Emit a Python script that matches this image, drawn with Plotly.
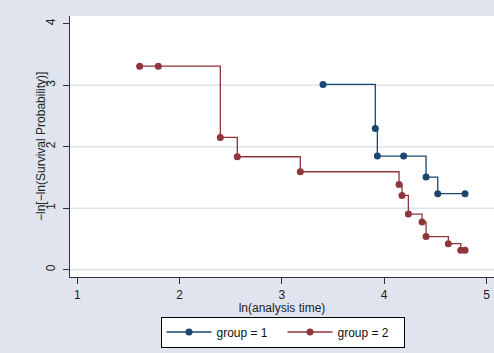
import plotly.graph_objects as go

# group 1 (ln time, -ln(-ln S))
g1_lnt = [3.402, 3.913, 3.933, 4.190, 4.409, 4.523, 4.790]
g1_val = [3.013, 2.297, 1.847, 1.847, 1.506, 1.236, 1.236]
# group 2
g2_lnt = [1.610, 1.792, 2.398, 2.564, 3.180, 4.145, 4.174, 4.236, 4.370, 4.409, 4.627, 4.748, 4.790]
g2_val = [3.311, 3.311, 2.151, 1.837, 1.593, 1.387, 1.208, 0.904, 0.774, 0.537, 0.423, 0.314, 0.314]

x_ticks = [1, 2, 3, 4, 5]
y_ticks = [0, 1, 2, 3, 4]
grid_vals = [0, 1, 2, 3]
y_title = "−ln[−ln(Survival Probability)]"
x_title = "ln(analysis time)"

navy = "#1A476F"
maroon = "#90353B"
bg_blue = "#DFE4EE"
grid_col = "#DCE2EE"
font_fam = "Liberation Sans, Arial, sans-serif"

W, H = 494, 353
ML, MR, MT, MB = 70, 0, 16, 76
PW, PH = W - ML - MR, H - MT - MB

def px_to_paper_x(px):
    return (px - ML) / PW

def px_to_paper_y(py):
    return (H - MB - py) / PH

fig = go.Figure()
fig.add_trace(go.Scatter(x=g1_lnt, y=g1_val, mode="lines+markers", name="group = 1",
                         line=dict(color=navy, width=1.3, shape="hv"),
                         marker=dict(color=navy, size=7)))
fig.add_trace(go.Scatter(x=g2_lnt, y=g2_val, mode="lines+markers", name="group = 2",
                         line=dict(color=maroon, width=1.3, shape="hv"),
                         marker=dict(color=maroon, size=7)))

shapes = []
for g in grid_vals:
    shapes.append(dict(type="line", xref="paper", yref="y", x0=0, x1=1, y0=g, y1=g,
                       line=dict(color=grid_col, width=1.5), layer="below"))

fig.update_layout(
    width=W, height=H,
    margin=dict(l=ML, r=MR, t=MT, b=MB),
    paper_bgcolor=bg_blue, plot_bgcolor="white",
    font=dict(family=font_fam, size=12, color="#222"),
    showlegend=True,
    legend=dict(orientation="h", x=px_to_paper_x(282.5), xanchor="center",
                y=px_to_paper_y(316.5), yanchor="top",
                bordercolor="black", borderwidth=1, bgcolor="white",
                itemwidth=45, entrywidth=61, font=dict(size=12, color="#111")),
    xaxis=dict(range=[0.929, 5.073], tickvals=x_ticks, showgrid=False, zeroline=False,
               showline=True, linecolor="#333", linewidth=1.2, ticks="outside", ticklen=6,
               tickcolor="#333", tickfont=dict(size=12, color="#222"),
               title=dict(text=x_title, font=dict(size=12, color="#222"), standoff=2)),
    yaxis=dict(range=[-0.12, 4.127], tickvals=y_ticks, showgrid=False, zeroline=False,
               showline=True, linecolor="#333", linewidth=1.2, ticks="outside", ticklen=6,
               tickcolor="#333", tickangle=-90, ticklabelstandoff=3,
               tickfont=dict(size=12, color="#222")),
    shapes=shapes,
    annotations=[dict(text=y_title, textangle=-90, xref="paper", yref="paper",
                      x=px_to_paper_x(40.5), y=0.5, xanchor="center", yanchor="middle",
                      showarrow=False, font=dict(size=12, color="#222"))],
)
fig.write_html("out.html")
